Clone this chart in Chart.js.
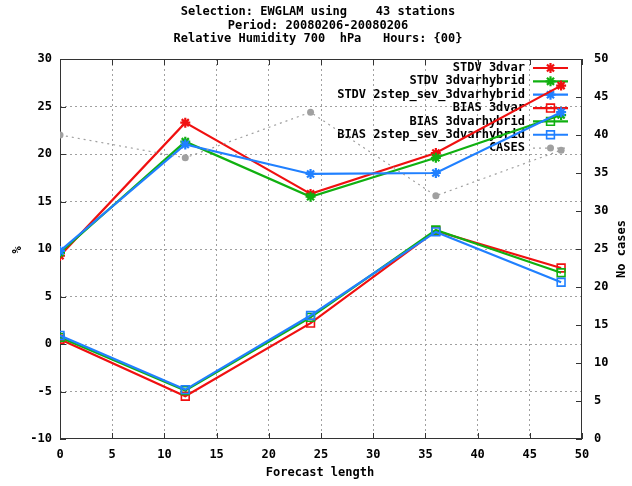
<!DOCTYPE html>
<html><head><meta charset="utf-8">
<script src="https://cdn.jsdelivr.net/npm/chart.js@4/dist/chart.umd.min.js"></script>
<style>html,body{margin:0;padding:0;background:#fff}</style>
</head><body><canvas id="c" width="632" height="486"></canvas>
<script>
const forecastHours = [0, 12, 24, 36, 48];
const stdv3dvar = [9.3, 23.3, 15.8, 20.1, 27.2];
const stdv3dvarhybrid = [9.6, 21.3, 15.5, 19.6, 24.1];
const stdv2step = [9.8, 21.0, 17.9, 18.0, 24.4];
const bias3dvar = [0.5, -5.5, 2.2, 11.9, 8.0];
const bias3dvarhybrid = [0.7, -4.9, 2.8, 12.0, 7.5];
const bias2step = [0.9, -4.8, 3.0, 11.8, 6.5];
const casesCount = [40, 37, 43, 32, 38];
const seriesNames = ['STDV 3dvar', 'STDV 3dvarhybrid', 'STDV 2step_sev_3dvarhybrid',
  'BIAS 3dvar', 'BIAS 3dvarhybrid', 'BIAS 2step_sev_3dvarhybrid', 'CASES'];
const titleLines = ['Selection: EWGLAM using    43 stations', 'Period: 20080206-20080206',
  'Relative Humidity 700  hPa   Hours: {00}'];
const xTitle = 'Forecast length', yTitle = '%', y2Title = 'No cases';

const RED = '#f01010', GREEN = '#10b010', BLUE = '#2080ff', GRAY = '#a0a0a0';
const FONT = '"DejaVu Sans Mono", monospace';
const fnt = {family: FONT, size: 12, weight: 'bold'};

function pts(ys) { return forecastHours.map((x, i) => ({x, y: ys[i]})); }
function ds(label, ys, color, style, order, extra) {
  return Object.assign({
    label, data: pts(ys), borderColor: color, backgroundColor: color,
    borderWidth: 2.2, pointStyle: style,
    pointRadius: style === 'rect' ? 5.5 : 5, pointBorderWidth: style === 'rect' ? 1.6 : 2.2,
    pointBackgroundColor: style === 'rect' ? 'rgba(0,0,0,0)' : color,
    pointBorderColor: color, tension: 0, yAxisID: 'y', order
  }, extra || {});
}
const datasets = [
  ds(seriesNames[0], stdv3dvar, RED, 'star', 7),
  ds(seriesNames[1], stdv3dvarhybrid, GREEN, 'star', 6),
  ds(seriesNames[2], stdv2step, BLUE, 'star', 5),
  ds(seriesNames[3], bias3dvar, RED, 'rect', 4),
  ds(seriesNames[4], bias3dvarhybrid, GREEN, 'rect', 3),
  ds(seriesNames[5], bias2step, BLUE, 'rect', 2),
  ds(seriesNames[6], casesCount, GRAY, 'circle', 1, {
    yAxisID: 'y2', borderWidth: 1.2, borderDash: [2, 4], pointRadius: 3.5,
    pointBorderWidth: 0, pointBackgroundColor: GRAY })
];

const decor = {
  id: 'decor',
  beforeDatasetsDraw(chart) {
    const ctx = chart.ctx, a = chart.chartArea;
    const xs = chart.scales.x, ys = chart.scales.y, y2 = chart.scales.y2;
    ctx.save();
    ctx.strokeStyle = '#333'; ctx.lineWidth = 1; ctx.setLineDash([]);
    ctx.strokeRect(a.left + 0.5, a.top + 0.5, a.right - a.left - 1, a.bottom - a.top - 1);
    ctx.beginPath();
    xs.ticks.forEach(t => { const p = Math.round(xs.getPixelForValue(t.value)) + 0.5;
      ctx.moveTo(p, a.bottom); ctx.lineTo(p, a.bottom - 6);
      ctx.moveTo(p, a.top); ctx.lineTo(p, a.top + 6); });
    ys.ticks.forEach(t => { const p = Math.round(ys.getPixelForValue(t.value)) + 0.5;
      ctx.moveTo(a.left, p); ctx.lineTo(a.left + 6, p); });
    y2.ticks.forEach(t => { const p = Math.round(y2.getPixelForValue(t.value)) + 0.5;
      ctx.moveTo(a.right, p); ctx.lineTo(a.right - 6, p); });
    ctx.stroke();
    ctx.font = 'bold 12px ' + FONT;
    ctx.textAlign = 'right'; ctx.textBaseline = 'middle';
    chart.data.datasets.forEach((d, i) => {
      const yy = 68 + i * 13.35;
      ctx.fillStyle = '#000';
      ctx.fillText(d.label, 525, yy);
      ctx.strokeStyle = d.borderColor; ctx.lineWidth = d.borderWidth;
      ctx.setLineDash(d.borderDash || []);
      ctx.beginPath(); ctx.moveTo(533, yy); ctx.lineTo(568, yy); ctx.stroke();
      ctx.setLineDash([]);
      ctx.strokeStyle = d.pointBorderColor; ctx.fillStyle = d.pointBackgroundColor;
      ctx.lineWidth = d.pointBorderWidth;
      Chart.helpers.drawPoint(ctx, {pointStyle: d.pointStyle, radius: d.pointRadius,
        rotation: 0, borderWidth: d.pointBorderWidth}, 550.5, yy);
    });
    ctx.restore();
  },
  afterDraw(chart) {
    const ctx = chart.ctx;
    ctx.save();
    ctx.font = 'bold 12px ' + FONT; ctx.fillStyle = '#000';
    ctx.textAlign = 'center'; ctx.textBaseline = 'middle';
    titleLines.forEach((t, i) => ctx.fillText(t, 318, 12 + i * 13.5));
    ctx.fillText(xTitle, 320, 473);
    ctx.translate(18, 250); ctx.rotate(-Math.PI / 2); ctx.fillText(yTitle, 0, 0);
    ctx.setTransform(1, 0, 0, 1, 0, 0);
    ctx.translate(622, 249); ctx.rotate(-Math.PI / 2); ctx.fillText(y2Title, 0, 0);
    ctx.restore();
  }
};

const gridCfg = {
  color: (c) => (c.index === 0 || c.index === c.scale.ticks.length - 1) ? 'rgba(0,0,0,0)' : GRAY,
  lineWidth: 1, drawTicks: false
};

new Chart(document.getElementById('c'), {
  type: 'line',
  data: {datasets},
  options: {
    responsive: false, devicePixelRatio: 1, animation: false,
    layout: {padding: {top: 59, left: 0, right: 0, bottom: 0}},
    plugins: {legend: {display: false}, title: {display: false}, tooltip: {enabled: false}},
    scales: {
      x: {type: 'linear', min: 0, max: 50, position: 'bottom',
        ticks: {stepSize: 5, font: fnt, color: '#000', padding: 9, maxRotation: 0},
        grid: gridCfg, border: {display: false, dash: [2, 3]},
        afterFit: s => { s.height = 47; }},
      y: {type: 'linear', min: -10, max: 30, position: 'left',
        ticks: {stepSize: 5, font: fnt, color: '#000', padding: 8},
        grid: gridCfg, border: {display: false, dash: [2, 3]},
        afterFit: s => { s.width = 60; }},
      y2: {type: 'linear', min: 0, max: 50, position: 'right',
        ticks: {stepSize: 5, font: fnt, color: '#000', padding: 12},
        grid: {drawOnChartArea: false, drawTicks: false}, border: {display: false},
        afterFit: s => { s.width = 50; }}
    }
  },
  plugins: [decor]
});
</script></body></html>
